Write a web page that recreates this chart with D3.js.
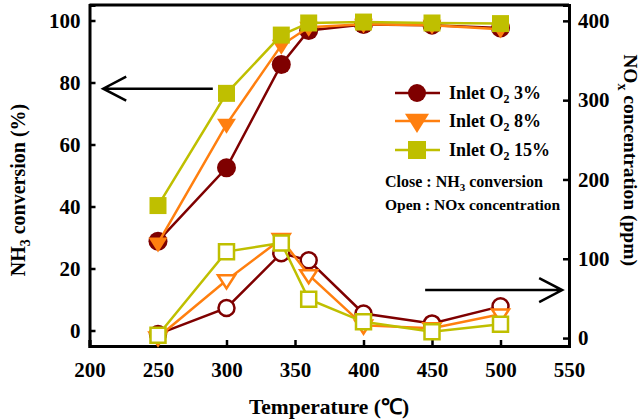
<!DOCTYPE html>
<html>
<head>
<meta charset="utf-8">
<script src="https://cdn.jsdelivr.net/npm/d3@7"></script>
<style>
  body { margin: 0; background: #fff; }
  svg text { font-family: "Liberation Serif", "Times New Roman", serif; font-weight: bold; }
</style>
</head>
<body>
<div class="chart"></div>
<script>
// data
var temps = [250, 300, 340, 360, 400, 450, 500];
var nh3_o2_3 = [28.8, 52.5, 85.8, 96.8, 98.7, 98.5, 97.6];
var nh3_o2_8 = [28.2, 66.5, 92.0, 97.8, 98.8, 98.5, 97.2];
var nh3_o2_15 = [40.3, 76.5, 95.3, 99.2, 99.5, 99.2, 99.0];
var nox_o2_3 = [5, 38, 107, 98, 31, 18.5, 40];
var nox_o2_8 = [1, 73, 125, 79.5, 16, 12.5, 30];
var nox_o2_15 = [3.5, 109, 120, 49, 20.5, 8, 17.5];
var xTicks = [200, 250, 300, 350, 400, 450, 500, 550];
var leftTicks = [0, 20, 40, 60, 80, 100];
var rightTicks = [0, 100, 200, 300, 400];
var seriesNames = ["3%", "8%", "15%"];

var W = 642, H = 420;
var margin = {top: 5, right: 73, bottom: 74, left: 89.5};
var width = W - margin.left - margin.right,
    height = H - margin.top - margin.bottom;

var colors = ["#7f0000", "#ff7f0f", "#bfbf00"];
var shapes = ["circle", "triangle", "square"];

var svg = d3.select(".chart").append("svg")
  .attr("width", W).attr("height", H);
var g = svg.append("g")
  .attr("transform", "translate(" + margin.left + "," + margin.top + ")");

var x = d3.scaleLinear().domain([200, 550]).range([0, width]);
var yL = d3.scaleLinear().domain([-5, 105]).range([height, 0]);
var yR = d3.scaleLinear().domain([-10, 420]).range([height, 0]);

// axes, ticks pointing inward
var axL = g.append("g").call(d3.axisLeft(yL).tickValues(leftTicks).tickSize(-6).tickPadding(9));
var axB = g.append("g").attr("transform", "translate(0," + height + ")")
  .call(d3.axisBottom(x).tickValues(xTicks).tickSize(-6).tickPadding(16));
var axR = g.append("g").attr("transform", "translate(" + width + ",0)")
  .call(d3.axisRight(yR).tickValues(rightTicks).tickSize(-6).tickPadding(9));
// top frame line
g.append("line").attr("x1", 0).attr("x2", width).attr("y1", 0).attr("y2", 0)
  .attr("stroke", "#000").attr("stroke-width", 3);

[axL, axB, axR].forEach(function(a) {
  a.select(".domain").attr("stroke", "#000").attr("stroke-width", 3);
  a.selectAll(".tick line").attr("stroke", "#000").attr("stroke-width", 2.5);
  a.selectAll("text").style("font-size", "21px")
    .style("font-family", "Liberation Serif, serif").style("font-weight", "bold").attr("fill", "#000");
});

function markerPath(shape, s) {
  if (shape == "circle") return d3.symbol(d3.symbolCircle, Math.PI * s * s)();
  if (shape == "square") return "M" + (-s) + "," + (-s) + "H" + s + "V" + s + "H" + (-s) + "Z";
  // downward triangle
  return "M" + (-s - 1) + "," + (-s * 0.65) + "H" + (s + 1) + "L0," + (s * 1.1) + "Z";
}

var line = function(ys, scale) {
  return d3.line()
    .x(function(d, i) { return x(temps[i]); })
    .y(function(d) { return scale(d); })(ys);
};

var closedSeries = [nh3_o2_3, nh3_o2_8, nh3_o2_15];
var openSeries = [nox_o2_3, nox_o2_8, nox_o2_15];

// NOx (open markers, right axis)
openSeries.forEach(function(ys, k) {
  var sg = g.append("g");
  sg.append("path").attr("d", line(ys, yR))
    .attr("fill", "none").attr("stroke", colors[k]).attr("stroke-width", 2.5);
  sg.selectAll("path.m").data(ys).enter().append("path").attr("class", "m")
    .attr("transform", function(d, i) { return "translate(" + x(temps[i]) + "," + yR(d) + ")"; })
    .attr("d", markerPath(shapes[k], shapes[k] == "circle" ? 8 : 7.5))
    .attr("fill", "#fff").attr("stroke", colors[k]).attr("stroke-width", 2.5);
});

// NH3 conversion (filled markers, left axis)
closedSeries.forEach(function(ys, k) {
  var sg = g.append("g");
  sg.append("path").attr("d", line(ys, yL))
    .attr("fill", "none").attr("stroke", colors[k]).attr("stroke-width", 2.5);
  sg.selectAll("path.m").data(ys).enter().append("path").attr("class", "m")
    .attr("transform", function(d, i) { return "translate(" + x(temps[i]) + "," + yL(d) + ")"; })
    .attr("d", markerPath(shapes[k], shapes[k] == "circle" ? 9.5 : 8.5))
    .attr("fill", colors[k]);
});

// arrows
function arrow(x0, x1, yy) {
  var dir = x1 > x0 ? -1 : 1;
  g.append("path")
    .attr("d", "M" + x0 + "," + yy + "H" + x1 +
      "M" + (x1 + dir * 23) + "," + (yy - 12) + "L" + x1 + "," + yy + "L" + (x1 + dir * 23) + "," + (yy + 12))
    .attr("fill", "none").attr("stroke", "#000").attr("stroke-width", 2.5);
}
arrow(x(290), x(210), yL(78));
arrow(x(445), x(545), yR(60.5));

// legend
var lg = svg.append("g").attr("transform", "translate(395,0)");
seriesNames.forEach(function(nm, k) {
  var yy = [93, 121, 150][k];
  lg.append("line").attr("x1", 0).attr("x2", 45).attr("y1", yy).attr("y2", yy)
    .attr("stroke", colors[k]).attr("stroke-width", 2.5);
  lg.append("path").attr("transform", "translate(22," + yy + ")")
    .attr("d", markerPath(shapes[k], shapes[k] == "circle" ? 9 : (shapes[k] == "square" ? 9 : 11)))
    .attr("fill", colors[k]);
  var t = lg.append("text").attr("x", 54).attr("y", yy + 6).style("font-size", "18px");
  t.append("tspan").text("Inlet O");
  t.append("tspan").attr("dy", 4).style("font-size", "12px").text("2");
  t.append("tspan").attr("dy", -4).text(" " + nm);
});
var n1 = svg.append("text").attr("x", 385).attr("y", 187).style("font-size", "16px");
n1.append("tspan").text("Close : NH");
n1.append("tspan").attr("dy", 4).style("font-size", "11px").text("3");
n1.append("tspan").attr("dy", -4).text(" conversion");
svg.append("text").attr("x", 385).attr("y", 210).style("font-size", "15.5px")
  .text("Open : NOx concentration");

// axis titles
var tl = svg.append("text").attr("transform", "translate(25,190) rotate(-90)")
  .attr("text-anchor", "middle").style("font-size", "20px");
tl.append("tspan").text("NH");
tl.append("tspan").attr("dy", 5).style("font-size", "14px").text("3");
tl.append("tspan").attr("dy", -5).text(" conversion (%)");

var tr = svg.append("text").attr("transform", "translate(624,160) rotate(90)")
  .attr("text-anchor", "middle").style("font-size", "19.5px");
tr.append("tspan").text("NO");
tr.append("tspan").attr("dy", 6).style("font-size", "14px").text("x");
tr.append("tspan").attr("dy", -6).text(" concentration (ppm)");

svg.append("text").attr("x", 329).attr("y", 414).attr("text-anchor", "middle")
  .style("font-size", "21.5px").text("Temperature (℃)");
</script>
</body>
</html>
